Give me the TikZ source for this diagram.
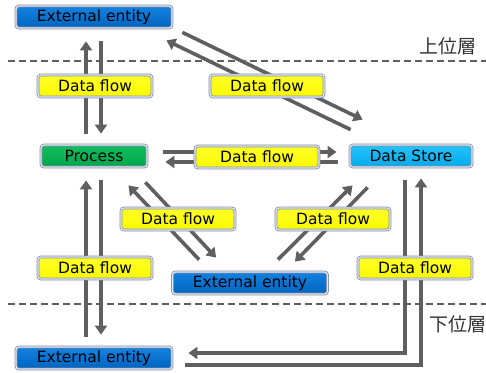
\documentclass[tikz,border=0pt]{standalone}
\usepackage{fontspec}
\setmainfont{DejaVu Sans}
\newfontfamily\jpfont{Noto Sans CJK JP}
\usetikzlibrary{arrows.meta,calc}
\pgfdeclarelayer{bg}
\pgfsetlayers{bg,main}
\definecolor{arrowgray}{RGB}{95,95,95}
\definecolor{boxedge}{RGB}{130,140,165}
\definecolor{boxinner}{RGB}{225,232,245}
\definecolor{eblueT}{RGB}{20,130,225}
\definecolor{eblueB}{RGB}{0,100,190}
\definecolor{yelT}{RGB}{255,255,40}
\definecolor{yelB}{RGB}{250,250,0}
\definecolor{grnT}{RGB}{20,190,95}
\definecolor{grnB}{RGB}{0,165,75}
\definecolor{cyT}{RGB}{40,195,250}
\definecolor{cyB}{RGB}{0,170,235}
\tikzset{
  box/.style={rounded corners=3pt, draw=boxedge, double=boxinner, double distance=1.2pt, line width=0.8pt,
    inner sep=0pt, minimum height=22pt, font=\fontsize{15.5}{18}\selectfont, text=black},
  entity/.style={box, top color=eblueT, bottom color=eblueB, minimum width=156pt},
  flowbox/.style={box, top color=yelT, bottom color=yelB, minimum width=114pt},
  procbox/.style={box, top color=grnT, bottom color=grnB, minimum width=106pt},
  storebox/.style={box, top color=cyT, bottom color=cyB, minimum width=122pt},
  conn/.style={draw=arrowgray, line width=3.6pt, line join=miter, -{Triangle[width=12pt,length=9pt]}},
  layer/.style={draw=arrowgray, line width=2pt, dash pattern=on 7pt off 4pt},
  layerlabel/.style={font=\jpfont\fontsize{19}{21}\selectfont, text={rgb,255:red,50;green,50;blue,50}, inner sep=0pt}
}
\begin{document}
\begin{tikzpicture}[x=1pt,y=-1pt]
\useasboundingbox (0,0) rectangle (486,372);
% nodes
\node[entity] (ee1) at (94,17) {External entity};
\node[flowbox] (f1) at (95,86) {Data flow};
\node[flowbox] (f2) at (267,86) {Data flow};
\node[procbox] (proc) at (94,156) {Process};
\node[flowbox, minimum width=124pt] (f3) at (257,157) {Data flow};
\node[storebox] (ds) at (411,156) {Data Store};
\node[flowbox] (f4) at (178,219) {Data flow};
\node[flowbox] (f5) at (333,219) {Data flow};
\node[flowbox] (f6) at (95,268) {Data flow};
\node[entity, minimum width=155pt] (ee2) at (250,283) {External entity};
\node[flowbox] (f7) at (415,268) {Data flow};
\node[entity] (ee3) at (94,358) {External entity};
\node[layerlabel] (up) at (448,46) {上位層};
\node[layerlabel] (down) at (458,324) {下位層};
\coordinate (l1a) at (8,61);
\coordinate (l1b) at (486,61);
\coordinate (l2a) at (8,304);
\coordinate (l2b) at (486,304);
\begin{pgfonlayer}{bg}
\draw[layer] (l1a) -- (l1b);
\draw[layer] (l2a) -- (l2b);
% top entity <-> process
\draw[conn] ($(proc.north)+(-8,-11)$) -- ($(ee1.south)+(-8,13)$);
\draw[conn] ($(ee1.south)+(7,13)$) -- ($(proc.north)+(7,-11)$);
% top entity <-> data store
\draw[conn] ($(ds.north west)+(1,-15)$) -- ($(ee1.south east)+(-6,12)$);
\draw[conn] ($(ee1.south east)+(10,4)$) -- ($(ds.north west)+(13,-25)$);
% process <-> data store
\draw[conn] ($(proc.east)+(16,-4)$) -- ($(ds.west)+(-13,-4)$);
\draw[conn] ($(ds.west)+(-12,6)$) -- ($(proc.east)+(18,6)$);
% process <-> middle entity
\draw[conn] ($(ee2.north west)+(27,-12)$) -- ($(proc.south east)+(-19,18)$);
\draw[conn] ($(proc.south east)+(-2,15)$) -- ($(ee2.north west)+(44,-14)$);
% data store <-> middle entity
\draw[conn] ($(ee2.north east)+(-50,-12)$) -- ($(ds.south west)+(3,18)$);
\draw[conn] ($(ds.south west)+(18,20)$) -- ($(ee2.north east)+(-33,-10)$);
% process <-> bottom entity
\draw[conn] ($(ee3.north)+(-8,-10)$) -- ($(proc.south)+(-8,13)$);
\draw[conn] ($(proc.south)+(7,13)$) -- ($(ee3.north)+(7,-12)$);
% data store <-> bottom entity
\draw[conn] ($(ds.south)+(-6,13)$) |- ($(ee3.east)+(16,-5)$);
\draw[conn] ($(ee3.east)+(13,7)$) -| ($(ds.south)+(10,11)$);
\end{pgfonlayer}
\end{tikzpicture}
\end{document}
